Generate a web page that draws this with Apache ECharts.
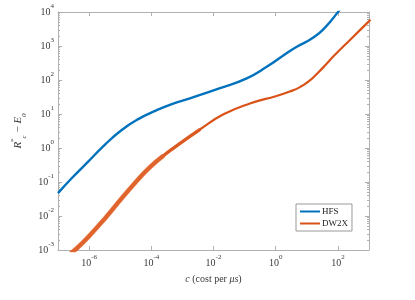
<!DOCTYPE html>
<html><head><meta charset="utf-8">
<script src="https://cdn.jsdelivr.net/npm/echarts@6/dist/echarts.min.js"></script>
<style>html,body{margin:0;padding:0;background:#fff}#c{width:415px;height:300px}</style>
</head><body><div id="c"></div>
<script>
// HFS curve (cost per µs, R*_c - E_0)
const hfsCost = [1e-7, 2.75e-7, 9.33e-7, 3.24e-6, 1.12e-5, 3.8e-5, 1.32e-4, 4.57e-4, 1.74e-3, 1.62e-2, 0.117, 0.513, 2.24, 4.79, 10, 20, 33.9, 60, 102, 126];
const hfsVals = [0.047, 0.129, 0.398, 1.26, 3.39, 7.08, 12.3, 19.5, 28.8, 57.5, 112, 245, 617, 955, 1350, 2040, 3090, 5500, 10200, 13200];
// DW2X curve
const dwCost = [2.51e-7, 3.72e-7, 9.33e-7, 3.24e-6, 1.12e-5, 3.8e-5, 7.08e-5, 1.32e-4, 2.51e-4, 4.57e-4, 1.74e-3, 3.72e-3, 2.09e-2, 0.148, 1.07, 2.82, 6.03, 11.2, 20.9, 39.8, 70.8, 245, 955, 1120];
const dwVals = [7.9e-4, 1.05e-3, 2.4e-3, 8.5e-3, 0.0331, 0.120, 0.219, 0.372, 0.603, 0.912, 2.19, 3.55, 9.77, 20.4, 33.9, 45.7, 61.7, 89.1, 151, 275, 490, 1510, 5130, 5900];
// tick labels
const xTicks = [1e-6, 1e-4, 1e-2, 1, 1e2];
const yTicks = [1e-3, 1e-2, 1e-1, 1, 1e1, 1e2, 1e3, 1e4];
const yMinor = [];
for (let e = -3; e < 4; e++) for (let m = 2; m <= 9; m++) yMinor.push(m * Math.pow(10, e));

const FONT = 'Liberation Serif';
const AX = '#b0b0b0';
const TXT = '#3a3a3a';
const richTick = {
  b: {fontFamily: FONT, fontSize: 10, color: TXT, lineHeight: 18, verticalAlign: 'middle'},
  sup: {fontFamily: FONT, fontSize: 7, color: TXT, lineHeight: 10, verticalAlign: 'top'}
};
const fmt = v => '{b|10}{sup|' + Math.round(Math.log10(v)) + '}';
const pairs = (xs, ys) => xs.map((x, i) => [x, ys[i]]);
const gridPos = {left: 58, right: 46, top: 12, bottom: 50};
const SM = 0.5;

const chart = echarts.init(document.getElementById('c'), null, {renderer: 'canvas'});
chart.setOption({
  animation: false,
  backgroundColor: '#fff',
  grid: [Object.assign({}, gridPos), Object.assign({}, gridPos)],
  xAxis: [
    {type: 'log', logBase: 10, min: 1e-7, max: 1e3, gridIndex: 0, position: 'bottom',
     axisLine: {lineStyle: {color: AX, width: 1}},
     axisTick: {inside: true, length: 4, lineStyle: {color: AX}, customValues: xTicks},
     axisLabel: {customValues: xTicks, formatter: fmt, rich: richTick, margin: 4},
     splitLine: {show: false}, minorTick: {show: false},
     name: '{i|c} (cost per {i|μs})', nameLocation: 'middle', nameGap: 24,
     nameTextStyle: {fontFamily: FONT, fontSize: 10, color: TXT,
       rich: {i: {fontFamily: FONT, fontStyle: 'italic', fontSize: 10, color: TXT}}}},
    {type: 'log', logBase: 10, min: 1e-7, max: 1e3, gridIndex: 0, position: 'top',
     axisLine: {lineStyle: {color: AX, width: 1}},
     axisTick: {inside: true, length: 4, lineStyle: {color: AX}, customValues: xTicks},
     axisLabel: {show: false}, splitLine: {show: false}},
    {type: 'log', logBase: 10, min: 1e-7, max: 1e3, gridIndex: 1, show: false}
  ],
  yAxis: [
    {type: 'log', logBase: 10, min: 1e-3, max: 1e4, gridIndex: 0, position: 'left',
     axisLine: {lineStyle: {color: AX, width: 1}},
     axisTick: {inside: true, length: 4, lineStyle: {color: AX}, customValues: yTicks},
     axisLabel: {customValues: yTicks, formatter: fmt, rich: richTick, margin: 4},
     splitLine: {show: false},
     name: '{i|R}{sup|*}{sub|c}{n| − }{i|E}{sub|0}', nameLocation: 'middle', nameGap: 27, nameRotate: 90,
     nameTextStyle: {fontFamily: FONT, fontSize: 11, color: TXT,
       rich: {
         i: {fontFamily: FONT, fontStyle: 'italic', fontSize: 11, color: TXT, lineHeight: 18, verticalAlign: 'middle'},
         n: {fontFamily: FONT, fontSize: 11, color: TXT, lineHeight: 18, verticalAlign: 'middle'},
         sup: {fontFamily: FONT, fontSize: 7, color: TXT, lineHeight: 9, verticalAlign: 'top'},
         sub: {fontFamily: FONT, fontStyle: 'italic', fontSize: 7, color: TXT, lineHeight: 9, verticalAlign: 'bottom'}
       }}},
    {type: 'log', logBase: 10, min: 1e-3, max: 1e4, gridIndex: 0, position: 'right',
     axisLine: {lineStyle: {color: AX, width: 1}},
     axisTick: {inside: true, length: 4, lineStyle: {color: AX}, customValues: yTicks},
     axisLabel: {show: false}, splitLine: {show: false}},
    {type: 'log', logBase: 10, min: 1e-3, max: 1e4, gridIndex: 1, position: 'left',
     axisLine: {show: false},
     axisTick: {inside: true, length: 2, lineStyle: {color: AX}, customValues: yMinor},
     axisLabel: {show: false}, splitLine: {show: false}},
    {type: 'log', logBase: 10, min: 1e-3, max: 1e4, gridIndex: 1, position: 'right',
     axisLine: {show: false},
     axisTick: {inside: true, length: 2, lineStyle: {color: AX}, customValues: yMinor},
     axisLabel: {show: false}, splitLine: {show: false}}
  ],
  legend: {
    data: ['HFS', 'DW2X'], orient: 'vertical', left: 296, top: 204,
    icon: 'rect', itemWidth: 20, itemHeight: 2, itemGap: 3,
    padding: [3, 4, 3, 4], borderColor: '#999', borderWidth: 1, borderRadius: 0,
    backgroundColor: '#fff',
    textStyle: {fontFamily: FONT, fontSize: 9, color: '#222', padding: [0, 0, 0, -3]}
  },
  series: [
    {name: 'DW2X', type: 'line', xAxisIndex: 0, yAxisIndex: 0, data: pairs(dwCost, dwVals),
     showSymbol: false, symbol: 'none', smooth: SM,
     color: '#D95319', lineStyle: {width: 2.2, color: '#D95319'}},
    {name: 'dwMid', type: 'line', xAxisIndex: 0, yAxisIndex: 0, data: pairs(dwCost.slice(0, 12), dwVals.slice(0, 12)),
     showSymbol: false, symbol: 'none', smooth: SM,
     lineStyle: {width: 3.3, color: '#DB5A22'}},
    {name: 'dwThick', type: 'line', xAxisIndex: 0, yAxisIndex: 0, data: pairs(dwCost.slice(0, 9), dwVals.slice(0, 9)),
     showSymbol: false, symbol: 'none', smooth: SM,
     lineStyle: {width: 4.6, color: '#E0652E', opacity: 0.85}},
    {name: 'HFS', type: 'line', xAxisIndex: 0, yAxisIndex: 0, data: pairs(hfsCost, hfsVals),
     showSymbol: false, symbol: 'none', smooth: SM,
     color: '#0072BD', lineStyle: {width: 2.4, color: '#0072BD'}}
  ]
});
</script></body></html>
